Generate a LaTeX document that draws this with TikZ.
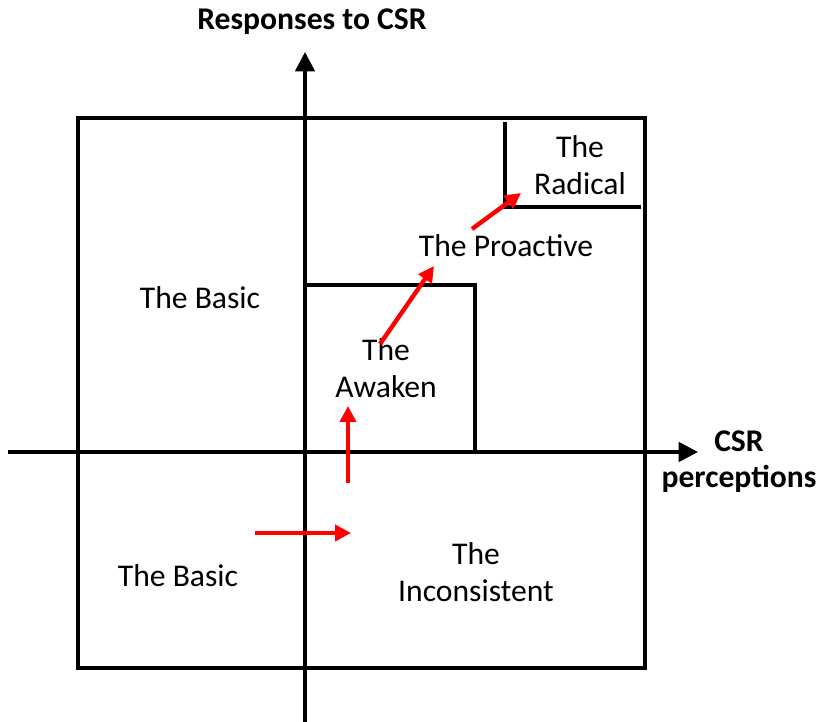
\documentclass[tikz,border=0pt]{standalone}
\usepackage{fontspec}
\setmainfont{Carlito}
\usetikzlibrary{arrows.meta}
\tikzset{
  lbl/.style={align=center, font=\fontsize{18}{21}\selectfont},
  axlbl/.style={align=center, font=\fontsize{18}{20.5}\selectfont\bfseries},
  movearrow/.style={red, line width=2.5pt, -{Triangle[length=9pt,width=9pt]}}
}
\begin{document}
\begin{tikzpicture}[x=0.02cm, y=-0.02cm, line width=2pt]
		\useasboundingbox (0,0) rectangle (819,722);
		% outer frame, inner box and radical corner
		\draw (78,118) rectangle (645,668);
		\draw (305,452) |- (475,285) -- (475,452);
		\draw (505,122) |- (641,207);
		% axes
		\coordinate (yb) at (305,722); \coordinate (yt) at (305,52);
		\coordinate (xl) at (8,452); \coordinate (xr) at (698,452);
		\draw[-{Triangle[length=11pt,width=11pt]}] (yb) -- (yt);
		\draw[-{Triangle[length=11pt,width=11pt]}] (xl) -- (xr);
		\node[axlbl] (ylab) at (312,22) {Responses to CSR};
		\node[axlbl] (xlab) at (739,462) {CSR\\perceptions};
		% quadrants
		\node[lbl] (basicA) at (200,298) {The Basic};
		\node[lbl] (basicB) at (178,576) {The Basic};
		\node[lbl] (incons) at (476,572) {The\\Inconsistent};
		\node[lbl] (awaken) at (386,368) {The\\Awaken};
		\node[lbl] (proact) at (506,246) {The Proactive};
		\node[lbl] (radical) at (580,165) {The\\Radical};
		% path of change
		\coordinate (a1) at (255,533); \coordinate (a2) at (351,533);
		\coordinate (b1) at (348,483); \coordinate (b2) at (348,406);
		\coordinate (c1) at (380,344); \coordinate (c2) at (434,266);
		\coordinate (d1) at (472,229); \coordinate (d2) at (521,193);
		\draw[movearrow] (a1) -- (a2);
		\draw[movearrow] (b1) -- (b2);
		\draw[movearrow] (c1) -- (c2);
		\draw[movearrow] (d1) -- (d2);
\end{tikzpicture}
\end{document}
